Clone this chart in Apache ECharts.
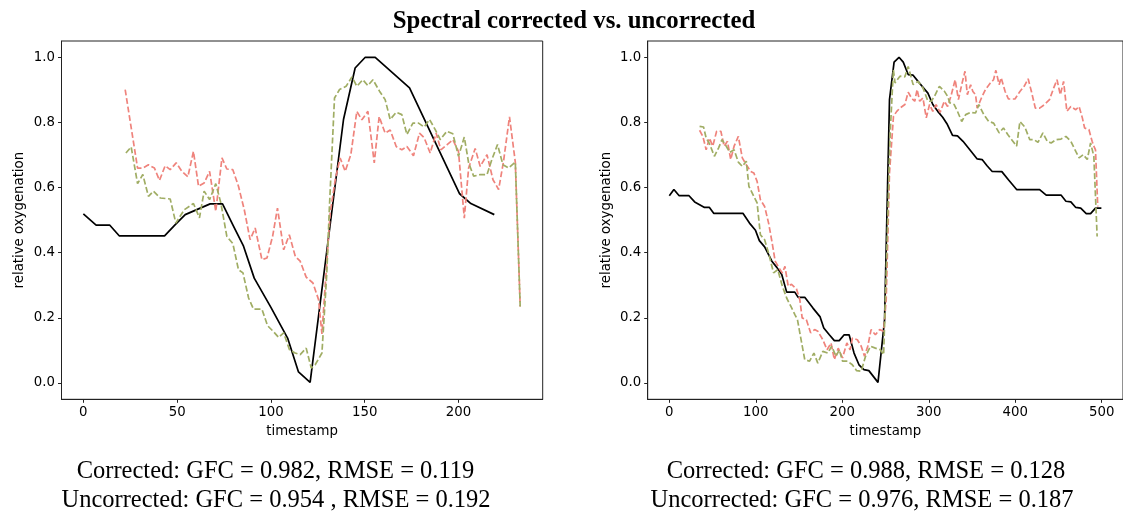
<!DOCTYPE html>
<html>
<head>
<meta charset="utf-8">
<script src="https://cdn.jsdelivr.net/npm/echarts@6/dist/echarts.min.js"></script>
<style>html,body{margin:0;padding:0;background:#fff}#c{width:1123px;height:513px}</style>
</head>
<body>
<div id="c"></div>
<script>
// ---------- text ----------
const titleText = 'Spectral corrected vs. uncorrected';
const xName = 'timestamp';
const yName = 'relative oxygenation';
const leftNotes = ['Corrected: GFC = 0.982, RMSE = 0.119', 'Uncorrected: GFC = 0.954 , RMSE = 0.192'];
const rightNotes = ['Corrected: GFC = 0.988, RMSE = 0.128', 'Uncorrected: GFC = 0.976, RMSE = 0.187'];

// ---------- tick labels ----------
const leftXTicks = [0, 50, 100, 150, 200];
const rightXTicks = [0, 100, 200, 300, 400, 500];
const yTicks = [0, 0.2, 0.4, 0.6, 0.8, 1.0];

// ---------- left panel data ----------
const leftTruthX = [0, 6.8, 14, 19.1, 43.3, 49, 54.3, 67.6, 74.2, 80.1, 85.4, 91.1, 100, 108.9, 114.7, 120.9, 138.7, 144.9, 150.3, 155.6, 173.9, 200.6, 206.6, 219.1];
const leftTruthY = [0.519, 0.485, 0.485, 0.452, 0.452, 0.486, 0.517, 0.55, 0.55, 0.481, 0.42, 0.322, 0.232, 0.138, 0.034, 0.002, 0.809, 0.967, 1.0, 1.0, 0.906, 0.581, 0.551, 0.517];

const leftCorrX = [22.7, 25.5, 28.9, 31.7, 34.7, 37.4, 41, 46.3, 49.3, 53.8, 58.7, 61.9, 64.4, 67.3, 70.6, 73.3, 76.5, 79.7, 82.7, 85.1, 88.1, 90.7, 95.2, 98.2, 101, 104.1, 106.8, 109.9, 112.9, 115.6, 118.8, 121.5, 123.6, 127.2, 129.8, 131.2, 133.9, 136.6, 140.1, 143.2, 145.8, 149, 151.7, 154.4, 157.9, 160.9, 163.6, 166.8, 169.8, 172.5, 175.7, 178.7, 181.7, 184.6, 187.6, 190.3, 193.8, 197, 200, 203.1, 205.4, 208.1, 211.6, 215.2, 217.8, 220.8, 223.7, 226.7, 230.3, 232.9];
const leftCorrY = [0.706, 0.725, 0.612, 0.64, 0.573, 0.589, 0.568, 0.565, 0.491, 0.532, 0.551, 0.507, 0.589, 0.563, 0.612, 0.553, 0.45, 0.428, 0.348, 0.338, 0.261, 0.227, 0.227, 0.176, 0.16, 0.14, 0.154, 0.102, 0.092, 0.087, 0.107, 0.046, 0.056, 0.092, 0.338, 0.542, 0.875, 0.901, 0.911, 0.94, 0.911, 0.931, 0.913, 0.931, 0.896, 0.87, 0.809, 0.831, 0.824, 0.763, 0.798, 0.798, 0.786, 0.809, 0.778, 0.747, 0.773, 0.765, 0.696, 0.755, 0.676, 0.635, 0.64, 0.64, 0.686, 0.732, 0.67, 0.66, 0.678, 0.235];

const leftUncorrX = [22.3, 28.9, 31.7, 34.7, 37.9, 40.6, 43.6, 46.3, 49.5, 52.5, 55.7, 58.7, 61.4, 64.4, 67.3, 70.6, 73.9, 76.5, 79.7, 82.7, 85.8, 88.9, 91.6, 95.2, 97.9, 100.9, 103.5, 106.8, 109.8, 113, 115.6, 118.8, 122.4, 125.4, 127.2, 131.6, 134.3, 136.9, 139.6, 142.6, 145.8, 148.5, 151.7, 155.1, 157.7, 160.9, 163.6, 166.8, 169.8, 172.5, 176, 179.2, 181.7, 184.9, 188.1, 190.6, 193.8, 197, 200, 203.1, 205.4, 208.9, 211.6, 215.2, 218.4, 221.4, 224, 227.2, 230.3, 232.9];
const leftUncorrY = [0.901, 0.66, 0.66, 0.67, 0.66, 0.622, 0.667, 0.655, 0.676, 0.65, 0.633, 0.711, 0.604, 0.614, 0.65, 0.527, 0.691, 0.657, 0.655, 0.604, 0.532, 0.44, 0.476, 0.379, 0.384, 0.45, 0.537, 0.409, 0.455, 0.389, 0.374, 0.325, 0.307, 0.256, 0.151, 0.522, 0.624, 0.691, 0.65, 0.701, 0.834, 0.808, 0.834, 0.676, 0.818, 0.767, 0.777, 0.726, 0.716, 0.726, 0.698, 0.767, 0.753, 0.706, 0.767, 0.716, 0.731, 0.747, 0.711, 0.506, 0.66, 0.72, 0.665, 0.701, 0.624, 0.594, 0.68, 0.817, 0.678, 0.235];

// ---------- right panel data ----------
const rightTruthX = [0, 5.3, 11.4, 22.8, 29.3, 40.7, 46.4, 51.3, 85.1, 92.7, 99.6, 104.1, 110.2, 118.6, 124.3, 130, 135.7, 145.1, 149, 156.6, 166.1, 174.4, 178.6, 185, 190.8, 196.5, 202.2, 207.9, 213.6, 219.3, 225, 230.7, 241.3, 248.9, 254.6, 259.9, 265.6, 270.5, 276.2, 281.9, 287.6, 293.3, 299, 304.7, 310.4, 316.1, 321, 327.5, 333.2, 339.6, 348.4, 356, 361.7, 367.4, 373.1, 384.5, 392.1, 401.6, 428.2, 435.8, 452.9, 458.6, 464.3, 470, 475.7, 482.1, 487.1, 492.8, 499.6];
const rightTruthY = [0.575, 0.594, 0.575, 0.575, 0.556, 0.539, 0.539, 0.521, 0.521, 0.491, 0.469, 0.437, 0.418, 0.374, 0.355, 0.333, 0.279, 0.279, 0.263, 0.263, 0.23, 0.203, 0.169, 0.148, 0.13, 0.13, 0.148, 0.148, 0.092, 0.056, 0.041, 0.038, 0.002, 0.194, 0.87, 0.985, 1.0, 0.985, 0.947, 0.945, 0.926, 0.908, 0.89, 0.855, 0.834, 0.816, 0.796, 0.76, 0.759, 0.742, 0.713, 0.688, 0.686, 0.667, 0.65, 0.649, 0.624, 0.594, 0.594, 0.577, 0.577, 0.558, 0.556, 0.539, 0.537, 0.52, 0.52, 0.537, 0.537];

const rightCorrX = [35, 39.6, 42.6, 46.4, 52.1, 57, 60.9, 65.4, 70, 74.9, 79.8, 84.4, 89, 92, 97.7, 101.5, 105.3, 110.2, 114.8, 120.5, 125.4, 130.7, 135.7, 140.6, 145.2, 148.2, 150.9, 156.6, 162.2, 167.2, 171.7, 177.5, 183.2, 187.8, 192.7, 196.5, 200.3, 206, 211.6, 216.6, 221.9, 226.9, 232.6, 238.3, 244, 247.8, 250.8, 255.4, 259.1, 261, 266.7, 272.4, 276.2, 281.9, 287.6, 293.3, 299, 302.8, 306.6, 312.3, 318, 321.8, 324.4, 329.4, 333.2, 338.1, 342.7, 348.4, 354.1, 357.9, 363.6, 369.3, 375, 381.4, 386.4, 391.3, 395.9, 401.6, 405.4, 411.1, 416.8, 421.7, 426.3, 432, 437, 441.5, 447.2, 452.9, 458.6, 464.3, 470, 473.8, 478.7, 483.3, 487.1, 490.9, 494.7];
const rightCorrY = [0.788, 0.786, 0.752, 0.735, 0.696, 0.722, 0.747, 0.729, 0.708, 0.716, 0.678, 0.665, 0.681, 0.604, 0.573, 0.553, 0.455, 0.44, 0.399, 0.338, 0.348, 0.297, 0.261, 0.235, 0.21, 0.194, 0.154, 0.072, 0.067, 0.092, 0.061, 0.097, 0.092, 0.113, 0.082, 0.102, 0.067, 0.067, 0.056, 0.038, 0.036, 0.082, 0.113, 0.107, 0.102, 0.087, 0.338, 0.768, 0.962, 0.921, 0.942, 0.94, 0.972, 0.916, 0.926, 0.906, 0.865, 0.865, 0.88, 0.911, 0.896, 0.88, 0.86, 0.855, 0.834, 0.803, 0.824, 0.831, 0.829, 0.855, 0.824, 0.803, 0.798, 0.768, 0.783, 0.763, 0.747, 0.727, 0.803, 0.786, 0.747, 0.747, 0.739, 0.768, 0.742, 0.737, 0.747, 0.749, 0.757, 0.742, 0.711, 0.691, 0.701, 0.686, 0.737, 0.696, 0.45];

const rightUncorrX = [35, 38.8, 42.6, 46.4, 50.2, 54.7, 59.6, 63.4, 67.2, 71, 74.9, 79.8, 84.4, 89, 93.9, 97.7, 101.5, 105.3, 110.2, 114.8, 118.6, 122.4, 126.9, 130.7, 133.7, 137.5, 141.3, 147, 150.9, 153.6, 158.5, 163.4, 168, 171.7, 177.5, 182.4, 187, 190.8, 195.3, 200.3, 205.3, 209, 211.7, 217.4, 221.9, 225.7, 229.5, 233.3, 238.3, 243.2, 247.8, 250.8, 254.6, 259.2, 263, 266.7, 272.4, 276.2, 280, 283.8, 286.5, 289.5, 293.3, 297.1, 300.9, 304.7, 308.5, 313.1, 318, 321.8, 325.6, 330.5, 334.3, 338.1, 341.9, 344.6, 348.4, 351, 354.1, 356, 360.9, 365.5, 371.2, 374.9, 377.6, 381.4, 383.7, 388.3, 392.1, 399.7, 405.4, 410.3, 414.9, 418.7, 423.2, 428.2, 433.9, 439.6, 444.5, 448.3, 452.1, 455.9, 459.7, 464.3, 470, 473.8, 477.6, 480.2, 485.2, 488.9, 490.9, 492.8, 495.4];
const rightUncorrY = [0.776, 0.757, 0.716, 0.752, 0.727, 0.773, 0.773, 0.727, 0.742, 0.686, 0.727, 0.757, 0.691, 0.67, 0.65, 0.645, 0.619, 0.563, 0.542, 0.491, 0.435, 0.374, 0.353, 0.338, 0.358, 0.297, 0.303, 0.289, 0.256, 0.2, 0.194, 0.154, 0.164, 0.159, 0.133, 0.102, 0.123, 0.072, 0.107, 0.077, 0.123, 0.102, 0.138, 0.133, 0.113, 0.082, 0.113, 0.164, 0.148, 0.164, 0.159, 0.256, 0.645, 0.819, 0.834, 0.844, 0.855, 0.893, 0.875, 0.865, 0.901, 0.865, 0.875, 0.814, 0.855, 0.834, 0.855, 0.831, 0.865, 0.849, 0.88, 0.931, 0.87, 0.916, 0.957, 0.885, 0.916, 0.895, 0.885, 0.844, 0.875, 0.901, 0.921, 0.931, 0.96, 0.916, 0.937, 0.895, 0.872, 0.872, 0.895, 0.911, 0.934, 0.895, 0.844, 0.844, 0.855, 0.87, 0.906, 0.931, 0.885, 0.926, 0.834, 0.849, 0.839, 0.849, 0.814, 0.783, 0.778, 0.742, 0.727, 0.716, 0.542];

// ---------- helpers ----------
const zip = (xs, ys) => xs.map((x, i) => [x, ys[i]]);
const BLACK = '#000000', RED = '#ef837c', GREEN = '#a0ad64';
const tickFont = { fontFamily: 'DejaVu Sans', fontSize: 13.3, color: '#000' };

function xAxis(gi, min, max, ticks) {
  return {
    type: 'value', gridIndex: gi, min: min, max: max,
    name: xName, nameLocation: 'middle', nameGap: 26,
    nameTextStyle: Object.assign({}, tickFont),
    axisLine: { show: true, onZero: false, lineStyle: { color: '#222', width: 1 } },
    axisTick: { show: true, customValues: ticks, length: 3.5, lineStyle: { color: '#222', width: 1 } },
    axisLabel: Object.assign({ show: true, customValues: ticks, margin: 6.5, formatter: v => String(v) }, tickFont),
    splitLine: { show: false }
  };
}
function yAxis(gi) {
  return {
    type: 'value', gridIndex: gi, min: -0.05, max: 1.05,
    name: yName, nameLocation: 'middle', nameGap: 35,
    nameTextStyle: Object.assign({}, tickFont),
    axisLine: { show: true, onZero: false, lineStyle: { color: '#222', width: 1 } },
    axisTick: { show: true, customValues: yTicks, length: 3.5, lineStyle: { color: '#222', width: 1 } },
    axisLabel: Object.assign({ show: true, customValues: yTicks, margin: 6.5, formatter: v => v.toFixed(1) }, tickFont),
    splitLine: { show: false }
  };
}
function line(name, gi, data, color, dashed) {
  return {
    name: name, type: 'line', xAxisIndex: gi, yAxisIndex: gi, data: data,
    showSymbol: false, symbol: 'none', smooth: false, animation: false,
    lineStyle: dashed ? { color: color, width: 1.7, type: [6, 2.6] } : { color: color, width: 1.7 },
    emphasis: { disabled: true }
  };
}
function txt(text, x, y, size, bold) {
  return {
    type: 'text', x: x, y: y, silent: true,
    style: {
      text: text, fill: '#000',
      font: (bold ? 'bold ' : '') + size + 'px "Liberation Serif", serif',
      align: 'center', verticalAlign: 'middle',
      textAlign: 'center', textVerticalAlign: 'middle'
    }
  };
}

const chart = echarts.init(document.getElementById('c'), null, { renderer: 'canvas' });
chart.setOption({
  animation: false,
  backgroundColor: '#fff',
  grid: [
    { left: 61.5, top: 41, width: 481.2, height: 358.3, show: true, borderColor: '#222', borderWidth: 1, backgroundColor: 'transparent' },
    { left: 647.7, top: 41, width: 482.2, height: 358.3, show: true, borderColor: '#222', borderWidth: 1, backgroundColor: 'transparent' }
  ],
  xAxis: [xAxis(0, -11.65, 244.9, leftXTicks), xAxis(1, -25, 524.6, rightXTicks)],
  yAxis: [yAxis(0), yAxis(1)],
  series: [
    line('ground truth', 0, zip(leftTruthX, leftTruthY), BLACK, false),
    line('uncorrected', 0, zip(leftUncorrX, leftUncorrY), RED, true),
    line('corrected', 0, zip(leftCorrX, leftCorrY), GREEN, true),
    line('ground truth', 1, zip(rightTruthX, rightTruthY), BLACK, false),
    line('uncorrected', 1, zip(rightUncorrX, rightUncorrY), RED, true),
    line('corrected', 1, zip(rightCorrX, rightCorrY), GREEN, true)
  ],
  graphic: [
    txt(titleText, 574, 22, 24.8, true),
    txt(leftNotes[0], 275.5, 472, 24.5, false),
    txt(leftNotes[1], 276, 501, 24.5, false),
    txt(rightNotes[0], 866, 472, 24.5, false),
    txt(rightNotes[1], 862, 501, 24.5, false)
  ]
});
</script>
</body>
</html>
